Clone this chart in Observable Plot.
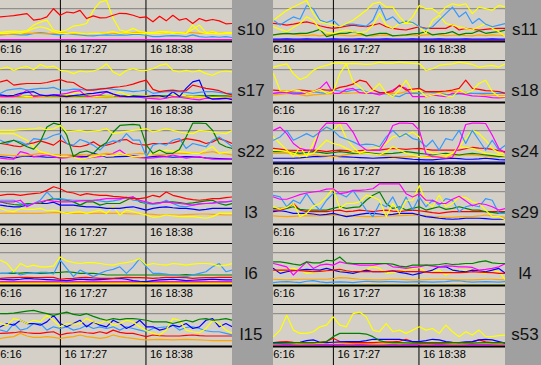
<!DOCTYPE html>
<html><head><meta charset="utf-8">
<script src="https://cdn.jsdelivr.net/npm/d3@7"></script>
<script src="https://cdn.jsdelivr.net/npm/@observablehq/plot@0.6"></script>
<style>
html,body{margin:0;padding:0;}
body{width:541px;height:365px;background:#a0a0a0;position:relative;overflow:hidden;font-family:"Liberation Sans",Arial,sans-serif;}
.panel{position:absolute;width:232px;height:60px;border-bottom:1px solid #000;overflow:hidden;background:#d4d0c8;}
.panel svg{display:block;}
.lab{position:absolute;width:38px;height:61px;line-height:59px;text-align:center;font-size:17px;color:#111;}
</style></head><body>
<script>
// sample times (minutes after midnight, day 16)
const times = d3.range(36).map(i => 997.3 + i * 5.5);
const tickTimes = [976, 1047, 1118];
const tickLabels = ["16 16:16", "16 17:27", "16 18:38"];

// s10
const s10_red = [75,77,79,82,85,65,68,75,100,80,90,87,95,70,78,72,73,80,86,85,80,73,75,60,77,63,80,65,70,55,70,63,67,63,54,55];
const s10_yellow = [28,30,32,30,33,50,59,65,35,30,35,47,50,55,95,120,125,70,35,30,40,30,28,27,30,30,28,27,25,37,50,27,30,25,27,27];
const s10_yellow2 = [25,25,27,25,30,40,45,40,30,25,25,27,25,23,25,25,27,30,25,27,25,25,23,25,25,27,25,27,25,50,30,25,25,23,25,25];
const s10_orange = [22,22,23,23,25,25,25,23,25,27,25,24,23,23,24,25,27,25,25,25,27,28,27,25,25,27,25,25,28,27,25,27,28,25,27,25];
const s10_dodger = [20,22,22,20,20,25,27,25,22,20,25,22,20,18,17,19,20,19,20,19,22,22,19,15,15,17,18,17,15,20,15,13,15,13,15,12];
const s10_magenta = [6,6,6,6,6,6,6,6,6,6,6,6,6,6,6,6,6,6,6,6,6,6,6,6,6,6,6,6,6,6,6,6,6,6,6,6];
// s11
const s11_yellow = [65,80,95,105,115,125,85,60,55,50,45,55,65,80,95,115,120,105,105,75,55,75,110,100,100,85,105,115,110,115,85,105,100,95,110,105];
const s11_yellow2 = [45,37,30,43,55,75,65,37,28,25,30,35,30,27,30,50,85,50,40,55,55,55,45,25,65,80,55,50,45,40,35,45,55,40,30,15];
const s11_dodger = [65,50,63,75,68,110,100,65,58,65,45,52,53,50,47,65,110,65,75,55,62,58,45,38,45,65,85,105,75,90,55,70,53,45,50,55];
const s11_red = [55,53,50,53,57,60,55,48,43,40,43,47,50,47,45,50,55,45,40,37,35,40,45,40,40,40,40,50,35,40,37,35,37,39,40,40];
const s11_green = [20,23,25,23,25,25,30,37,15,20,25,25,30,25,17,21,25,25,17,19,20,23,25,30,20,23,25,30,20,25,25,33,25,28,30,35];
const s11_orange = [20,22,24,22,20,18,20,17,20,22,20,18,17,20,18,17,19,20,18,17,20,19,18,20,22,20,18,19,20,18,17,20,18,20,19,18];
const s11_blue = [7,7,8,7,7,8,7,7,7,8,7,7,7,8,7,7,7,8,7,7,7,8,7,7,7,8,7,7,7,8,7,7,7,8,7,7];
const s11_magenta = [4,4,4,4,4,4,4,4,4,4,4,4,4,4,4,4,4,4,4,4,4,4,4,4,4,4,4,4,4,4,4,4,4,4,4,4];
// s17
const s17_yellow = [103,108,98,106,110,100,116,108,111,98,96,88,96,93,96,103,118,93,83,98,103,98,98,103,113,118,98,93,98,93,98,88,83,93,96,93];
const s17_red = [63,68,53,56,58,58,58,61,66,70,63,61,48,38,38,41,43,46,48,51,56,63,68,40,33,36,38,35,36,53,48,43,40,36,28,23];
const s17_dodger = [28,38,41,43,38,41,43,43,46,38,38,41,40,38,40,42,43,40,38,36,33,35,38,28,31,33,33,33,31,28,31,33,33,31,28,28];
const s17_blue = [23,20,22,28,31,33,23,20,23,20,18,21,23,26,28,31,33,26,20,18,18,18,18,21,20,16,33,18,43,63,68,18,10,12,13,8];
const s17_magenta = [18,18,18,23,38,18,20,22,23,25,28,33,36,18,20,23,33,25,18,18,18,16,13,12,10,13,18,16,13,10,8,13,12,10,12,13];
const s17_yellow2 = [18,20,23,21,18,18,19,20,22,23,23,28,33,26,18,19,20,20,33,23,18,19,20,20,18,16,20,23,20,18,17,16,15,14,13,13];
const s17_green = [20,20,21,20,19,20,21,20,20,21,20,20,19,20,20,21,20,20,19,20,21,20,20,19,20,20,21,20,20,19,20,20,21,20,20,19];
const s17_orange = [16,16,17,16,16,15,16,17,16,16,15,16,16,17,16,16,15,16,16,17,16,16,15,16,16,17,16,16,15,16,15,15,16,15,15,15];
// s18
const s18_yellow = [108,113,118,88,70,78,98,108,113,120,121,118,119,118,116,118,123,120,120,123,121,119,118,98,103,113,116,118,123,120,116,108,111,113,108,118];
const s18_yellow2 = [88,36,33,38,36,28,33,40,28,33,88,118,63,48,28,38,58,28,18,38,68,33,38,18,23,28,20,18,38,28,36,58,68,33,18,18];
const s18_red = [38,36,33,36,38,36,33,40,38,38,46,50,56,68,63,38,30,30,33,53,38,41,43,33,33,33,35,38,43,68,43,40,36,35,33,28];
const s18_magenta = [28,31,31,26,27,28,33,43,63,28,28,40,43,30,28,28,23,30,38,50,43,18,18,18,23,20,18,28,28,24,20,19,18,15,14,16];
const s18_dodger = [28,29,30,30,30,31,33,30,28,38,35,33,38,40,33,28,27,26,21,18,28,28,28,33,30,28,25,23,26,28,28,28,28,28,28,28];
const s18_orange = [23,25,27,28,24,20,23,25,26,27,28,28,29,30,29,28,28,28,28,28,33,31,28,29,30,31,33,33,33,31,28,26,23,22,21,20];
// s22
const s22_green = [61,66,71,61,51,44,66,111,123,118,86,21,34,38,31,51,64,96,116,118,119,117,56,31,41,31,31,43,81,123,123,122,101,61,51,46];
const s22_yellow = [101,101,101,103,104,106,109,103,106,116,96,99,101,96,99,101,106,91,94,98,101,103,106,96,101,106,101,96,93,91,101,99,96,93,91,101];
const s22_dodger = [71,61,71,66,56,76,73,76,86,91,61,56,73,66,56,41,61,69,66,91,71,71,21,56,61,56,71,76,46,61,56,51,71,81,66,51];
const s22_red = [61,58,54,51,59,63,69,63,56,71,61,53,51,56,66,53,56,61,71,73,61,58,56,61,61,61,63,69,76,73,69,61,66,76,69,61];
const s22_yellow2 = [91,91,91,81,71,51,36,31,26,21,21,19,13,16,21,26,23,23,31,26,21,21,23,31,36,41,38,36,34,31,31,41,51,31,34,36];
const s22_orange = [26,25,24,23,25,28,31,29,27,26,26,26,27,26,26,28,31,29,28,27,29,31,29,27,26,28,30,31,31,31,31,33,36,31,29,26];
const s22_magenta = [16,14,13,36,31,21,23,26,21,16,18,21,19,16,19,21,26,31,41,26,21,18,16,17,19,21,26,21,16,19,21,16,13,13,13,13];
const s22_blue = [21,19,16,21,23,21,21,19,19,19,21,23,22,21,31,26,19,20,21,22,23,21,19,21,23,21,19,20,21,20,19,17,16,15,14,13];
// s24
const s24_magenta = [101,111,91,61,46,41,41,101,123,123,123,122,96,56,41,41,41,71,116,123,123,122,101,29,21,19,16,19,56,119,123,123,122,86,46,31];
const s24_dodger = [71,81,101,71,81,91,81,96,111,101,81,74,66,56,59,58,51,81,101,81,91,76,71,51,71,41,76,71,101,61,101,71,41,71,41,56];
const s24_yellow = [81,61,41,21,51,21,61,101,111,101,121,76,51,31,41,46,49,61,81,86,86,96,81,41,31,29,26,31,51,76,101,91,71,46,31,31];
const s24_yellow2 = [41,39,36,31,21,26,31,51,71,61,56,46,36,33,31,29,26,36,51,41,31,26,21,19,16,19,21,31,51,49,46,39,31,29,26,23];
const s24_red = [46,44,41,40,39,40,41,39,36,39,41,39,36,39,41,41,41,44,46,45,43,45,46,43,41,41,41,41,41,45,49,47,46,43,39,36];
const s24_green = [36,36,36,34,31,34,36,34,31,33,36,34,31,32,33,31,29,30,31,33,36,34,31,29,26,29,31,29,26,29,31,29,26,24,21,23];
const s24_orange = [31,31,31,29,27,26,26,24,23,21,23,27,29,30,31,31,26,23,21,21,21,21,21,21,21,21,22,23,25,26,26,25,23,21,20,19];
const s24_blue = [16,16,16,16,17,19,21,21,22,23,21,20,19,18,17,16,17,18,19,17,15,13,12,11,11,13,15,16,15,13,13,14,16,14,12,11];
const s24_blue2 = [4,4,4,4,4,4,4,4,4,4,4,4,4,4,4,4,4,4,4,4,4,4,4,4,4,4,4,4,4,4,4,4,4,4,4,4];
// l3
const l3_red = [89,92,92,89,92,94,96,104,115,109,99,96,89,94,91,89,89,86,84,82,79,79,82,89,84,99,89,84,79,76,74,76,79,79,82,84];
const l3_magenta = [69,69,69,74,54,64,69,74,71,69,69,70,72,73,74,76,79,79,79,81,84,74,69,64,66,69,66,64,62,59,62,64,66,69,69,71];
const l3_dodger = [74,74,74,64,59,64,74,99,79,79,76,74,74,74,74,72,69,72,76,84,74,72,64,61,64,74,64,56,54,59,64,64,64,67,69,72];
const l3_green = [69,64,61,59,64,64,64,74,79,76,74,69,59,69,69,59,64,64,64,74,84,69,64,64,67,69,69,67,64,66,69,72,74,64,59,64];
const l3_blue = [59,56,54,54,59,64,64,64,68,59,59,59,56,54,54,52,49,49,49,52,54,49,44,49,52,54,51,49,49,47,44,46,49,49,49,49];
const l3_yellow = [49,42,39,49,46,46,49,42,44,39,34,37,39,34,39,44,34,54,29,44,39,34,29,22,24,29,26,24,24,24,22,19,24,34,34,34];
const l3_orange = [34,34,34,34,34,34,34,35,36,37,36,34,34,34,34,34,34,34,34,33,32,32,32,31,29,29,29,29,30,31,32,32,31,30,29,29];
// s29
const s29_magenta = [84,77,77,84,91,96,99,102,108,109,94,97,104,104,106,109,124,124,124,124,94,84,94,74,74,64,64,77,86,72,57,64,61,54,44,49];
const s29_yellow = [54,47,52,64,24,34,56,64,84,110,49,64,64,69,89,84,74,24,64,34,74,74,119,69,54,89,54,64,84,82,69,64,44,24,24,14];
const s29_dodger = [89,84,54,74,64,94,64,44,74,94,94,84,104,74,44,24,64,54,84,44,84,44,84,54,74,59,79,74,39,54,59,54,79,74,34,34];
const s29_green = [49,49,49,54,46,44,44,44,44,49,54,49,52,54,74,89,99,64,49,54,44,49,54,44,49,54,46,49,54,49,44,44,39,37,34,39];
const s29_red = [44,44,49,64,44,39,39,39,39,42,44,39,41,44,42,39,42,44,41,39,42,44,42,39,36,34,37,39,39,39,39,39,39,39,39,39];
const s29_blue = [39,42,39,34,34,34,32,29,31,34,29,24,27,31,34,34,32,29,31,34,34,34,29,24,22,19,17,16,17,19,19,19,18,16,16,16];
const s29_orange = [26,25,24,25,26,26,26,27,28,29,28,26,26,25,24,24,25,26,26,27,28,29,28,26,24,23,22,22,23,24,24,26,29,26,24,22];
// l6
const l6_yellow = [77,67,42,67,57,62,57,57,59,87,75,70,67,70,70,67,64,62,67,70,74,82,62,67,64,62,67,65,62,65,67,67,65,59,62,67];
const l6_dodger = [37,37,42,32,37,37,40,40,35,77,52,27,47,37,27,37,45,49,57,37,57,82,57,37,37,35,32,29,27,32,37,42,57,67,42,47];
const l6_green = [37,37,37,38,39,38,37,38,39,40,42,40,37,37,37,35,32,32,32,32,32,32,32,32,32,32,32,32,33,32,32,32,32,32,32,32];
const l6_red = [22,23,24,25,25,24,24,25,25,19,21,22,24,25,23,22,22,22,23,25,24,24,23,22,23,25,25,25,24,22,23,24,24,25,25,25];
const l6_blue = [19,18,17,19,22,20,19,18,17,16,15,17,19,18,17,18,19,21,22,19,15,13,12,15,17,18,19,17,15,16,17,18,19,18,17,17];
const l6_magenta = [12,12,12,12,12,12,12,12,12,12,11,12,12,12,12,12,12,12,12,12,12,12,12,12,12,12,12,12,12,12,12,12,12,12,12,12];
const l6_orange = [9,9,9,9,9,9,9,9,9,9,9,9,9,9,9,9,9,9,9,9,9,9,9,9,9,9,9,9,9,9,9,9,9,9,9,9];
const l6_yellow2 = [6,6,6,6,6,6,6,6,6,6,6,6,6,6,6,6,6,6,6,6,6,6,6,6,6,6,6,6,6,6,6,6,6,6,6,6];
// l4
const l4_green = [72,72,69,65,62,72,69,69,77,75,87,69,67,67,67,67,67,67,65,59,57,62,62,62,62,64,67,64,65,67,67,72,75,69,67,67];
const l4_magenta = [67,62,57,32,52,72,52,62,65,62,72,67,65,62,62,62,65,67,57,55,52,55,57,62,59,57,60,59,57,57,55,47,49,52,57,67];
const l4_red = [47,47,47,46,45,44,42,43,45,47,49,45,42,42,42,42,42,43,45,44,42,42,42,41,39,39,39,39,39,40,42,41,40,39,37,37];
const l4_blue = [52,37,42,45,47,49,48,47,52,47,42,40,37,42,47,42,42,42,45,40,37,32,37,42,47,57,57,47,44,42,47,45,42,47,52,37];
const l4_yellow = [47,42,49,52,47,37,40,42,47,47,47,42,37,42,49,57,52,37,40,44,47,52,55,42,45,47,32,42,47,47,47,40,37,47,42,17];
const l4_orange = [19,18,17,18,19,19,19,19,19,21,24,23,21,19,18,17,17,18,19,19,18,17,17,18,19,19,19,18,17,17,17,18,19,19,18,17];
const l4_dodger = [9,11,12,10,9,13,15,11,9,10,11,10,9,11,13,12,11,12,12,11,10,11,12,11,10,11,12,14,15,12,10,11,12,11,10,12];
const l4_yellow2 = [3,3,3,3,3,3,3,3,3,3,3,3,3,3,3,3,3,3,3,3,3,3,3,3,3,3,3,3,3,3,3,3,3,3,3,3];
// l15
const l15_green = [100,100,102,105,108,110,105,100,95,100,105,98,95,100,92,85,80,85,82,85,85,83,80,75,75,75,70,75,80,75,83,85,80,82,85,80];
const l15_yellow = [70,65,85,80,70,80,75,95,80,60,70,68,70,85,75,70,80,65,70,80,75,60,48,40,35,50,85,80,50,45,42,55,80,70,50,40];
const l15_blue = [60,70,65,80,70,70,65,75,95,70,60,70,80,60,75,65,60,80,70,55,65,80,60,60,50,55,65,60,70,55,60,80,85,60,70,60];
const l15_dodger = [50,45,70,50,55,70,70,50,60,55,60,50,55,65,55,60,55,60,50,60,55,50,45,55,58,60,65,50,58,60,55,48,45,45,40,35];
const l15_red = [40,41,42,45,42,40,40,43,45,35,40,42,45,42,40,45,40,50,43,40,40,35,30,35,33,32,32,32,34,35,33,32,32,32,32,32];
const l15_orange = [25,28,30,40,32,28,28,30,28,25,28,30,35,30,28,25,28,35,30,27,25,22,20,21,22,21,20,21,22,21,20,19,18,18,18,18];
// s53
const s53_yellow = [30,50,95,50,40,40,45,60,65,90,65,60,100,105,90,50,45,70,45,50,40,50,60,50,55,40,65,45,30,45,35,50,30,30,33,35];
const s53_green = [10,10,11,12,12,12,12,13,15,30,40,40,40,40,38,30,18,13,12,12,11,10,10,10,10,10,11,12,12,11,10,11,12,12,12,12];
const s53_blue = [12,12,12,12,13,18,20,13,12,13,14,15,15,15,18,22,22,22,22,22,18,15,15,18,22,20,15,13,12,14,15,20,22,20,15,10];
const s53_red = [12,14,15,13,12,12,12,13,15,25,15,13,12,12,12,12,13,14,14,16,22,14,12,12,12,12,12,12,12,12,14,20,14,12,12,12];
const s53_orange = [8,9,10,9,8,9,9,10,10,12,10,9,9,10,9,8,8,9,10,9,10,12,9,8,9,10,9,8,8,9,10,12,10,9,8,8];
const s53_magenta = [6,6,6,6,6,6,6,6,6,6,6,6,6,6,6,6,6,6,6,6,6,6,6,6,6,6,6,6,6,6,6,6,6,6,6,6];

const colors = {red:"#ff0000", yellow:"#ffff00", orange:"#ffa500", dodger:"#3399ff", blue:"#0000ff", green:"#008000", magenta:"#ff00ff"};

const panels = [
  {name:"s10", col:0, row:0, series:[["magenta",s10_magenta],["dodger",s10_dodger],["orange",s10_orange],["yellow",s10_yellow2],["yellow",s10_yellow],["red",s10_red]]},
  {name:"s11", col:1, row:0, series:[["magenta",s11_magenta],["blue",s11_blue],["orange",s11_orange],["green",s11_green],["red",s11_red],["yellow",s11_yellow2],["dodger",s11_dodger],["yellow",s11_yellow]]},
  {name:"s17", col:0, row:1, series:[["orange",s17_orange],["green",s17_green],["yellow",s17_yellow2],["magenta",s17_magenta],["blue",s17_blue],["dodger",s17_dodger],["red",s17_red],["yellow",s17_yellow]]},
  {name:"s18", col:1, row:1, series:[["orange",s18_orange],["dodger",s18_dodger],["magenta",s18_magenta],["red",s18_red],["yellow",s18_yellow2],["yellow",s18_yellow]]},
  {name:"s22", col:0, row:2, series:[["blue",s22_blue],["magenta",s22_magenta],["orange",s22_orange],["yellow",s22_yellow2],["red",s22_red],["dodger",s22_dodger],["green",s22_green],["yellow",s22_yellow]]},
  {name:"s24", col:1, row:2, series:[["blue",s24_blue2],["blue",s24_blue],["orange",s24_orange],["green",s24_green],["red",s24_red],["yellow",s24_yellow2],["yellow",s24_yellow],["dodger",s24_dodger],["magenta",s24_magenta]]},
  {name:"l3", col:0, row:3, series:[["orange",l3_orange],["yellow",l3_yellow],["blue",l3_blue],["green",l3_green],["dodger",l3_dodger],["magenta",l3_magenta],["red",l3_red]]},
  {name:"s29", col:1, row:3, series:[["orange",s29_orange],["blue",s29_blue],["red",s29_red],["green",s29_green],["dodger",s29_dodger],["yellow",s29_yellow],["magenta",s29_magenta]]},
  {name:"l6", col:0, row:4, series:[["yellow",l6_yellow2],["orange",l6_orange],["magenta",l6_magenta],["blue",l6_blue],["red",l6_red],["green",l6_green],["dodger",l6_dodger],["yellow",l6_yellow]]},
  {name:"l4", col:1, row:4, series:[["yellow",l4_yellow2],["dodger",l4_dodger],["orange",l4_orange],["yellow",l4_yellow],["blue",l4_blue],["red",l4_red],["magenta",l4_magenta],["green",l4_green]]},
  {name:"l15", col:0, row:5, series:[["orange",l15_orange],["red",l15_red],["dodger",l15_dodger],["blue",l15_blue],["yellow",l15_yellow],["green",l15_green]]},
  {name:"s53", col:1, row:5, series:[["magenta",s53_magenta],["orange",s53_orange],["red",s53_red],["blue",s53_blue],["green",s53_green],["yellow",s53_yellow]]}
];

const colLeft = [0, 273];
const labLeft = [232, 506];
const rowTop = 61;

for (const p of panels) {
  const div = document.createElement("div");
  div.className = "panel";
  div.style.left = colLeft[p.col] + "px";
  div.style.top = (p.row * rowTop) + "px";
  const marks = [
    Plot.ruleY([100], {stroke: "#808080", strokeWidth: 1}),
    Plot.gridX(tickTimes, {stroke: "#000", strokeOpacity: 1, strokeWidth: 1}),
    Plot.axisX(tickTimes, {tickSize: 19, stroke: "#000", strokeOpacity: 1, fill: "none", tickFormat: () => "", label: null}),
    Plot.axisX(tickTimes, {tickSize: 0, tickPadding: 4, tickFormat: d => tickLabels[tickTimes.indexOf(d)], textAnchor: "start", dx: 4, fontSize: 11, fontFamily: "Liberation Sans, Arial, sans-serif", fill: "#000", label: null})
  ];
  for (const [c, vals] of p.series) {
    marks.push(Plot.line(times.map((t, i) => ({t, v: vals[i]})), {x: "t", y: "v", stroke: colors[c], strokeWidth: 1.2}));
  }
  marks.push(Plot.ruleY([0], {stroke: "#000", strokeWidth: 2}));
  const svg = Plot.plot({
    width: 232, height: 60,
    marginTop: 0, marginBottom: 19, marginLeft: 0, marginRight: 0,
    x: {domain: [997.3, 1189.8]},
    y: {domain: [0, 125], axis: null},
    style: {background: "#d4d0c8"},
    marks
  });
  div.appendChild(svg);
  document.body.appendChild(div);
  const lab = document.createElement("div");
  lab.className = "lab";
  lab.style.left = labLeft[p.col] + "px";
  lab.style.top = (p.row * rowTop) + "px";
  lab.textContent = p.name;
  document.body.appendChild(lab);
}
</script>
</body></html>
